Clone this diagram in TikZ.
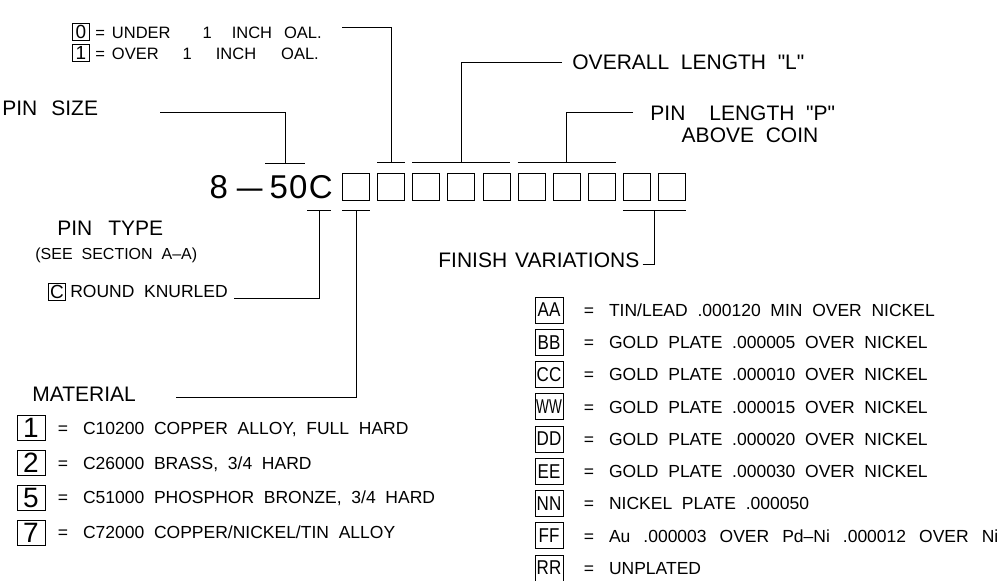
\documentclass[tikz,border=0pt]{standalone}
\usepackage{fontspec}
\newfontfamily\cadfont{Liberation Sans}[WordSpace=2]
\usepackage{tikz}
\usetikzlibrary{calc,positioning}

\newcommand{\fs}[1]{\cadfont\fontsize{#1}{#1}\selectfont}
\newcommand{\kl}[2][0.85]{\scalebox{#1}[1]{#2}}

\begin{document}
\begin{tikzpicture}[x=1pt,y=-1pt,line width=0.8pt]
    \tikzstyle{cbox}=[draw,minimum width=27pt,minimum height=27pt,inner sep=0pt]
    \tikzstyle{sbox}=[draw,minimum width=17pt,minimum height=17pt,inner sep=0pt,font=\fs{19}]
    \tikzstyle{nbox}=[draw,minimum width=28pt,minimum height=25pt,inner sep=0pt,font=\fs{28}]
    \tikzstyle{kbox}=[draw,minimum width=28pt,minimum height=26pt,inner sep=0pt,font=\fs{20}]
    \tikzstyle{head}=[anchor=west,inner sep=0pt,text height=15pt,text depth=0pt,font=\fs{21}]
    \tikzstyle{small}=[anchor=west,inner sep=0pt,text height=12pt,text depth=0pt,font=\fs{16.5}]
    \tikzstyle{ltext}=[anchor=west,inner sep=0pt,text height=12.5pt,text depth=0pt,font=\fs{17.5}]
    \useasboundingbox (0,0) rectangle (1002,581);

    % part number boxes
    \node[cbox] (c1) at (356,186.5) {};
    \node[cbox,right=7.3pt of c1] (c2) {};
    \node[cbox,right=7.3pt of c2] (c3) {};
    \node[cbox,right=7.3pt of c3] (c4) {};
    \node[cbox,right=7.3pt of c4] (c5) {};
    \node[cbox,right=7.3pt of c5] (c6) {};
    \node[cbox,right=7.3pt of c6] (c7) {};
    \node[cbox,right=7.3pt of c7] (c8) {};
    \node[cbox,right=7.3pt of c8] (c9) {};
    \node[cbox,right=7.3pt of c9] (c10) {};
    \node[inner sep=0pt,text height=23.6pt,text depth=0pt,font=\fs{33},left=9pt of c1] (code) {8\kern9pt\scalebox{1.4}[1]{–}\kern7pt 5\kern1pt0\kern1.5pt C};

    % tees
    \coordinate (t1) at (285,163);
    \coordinate (t2) at ([yshift=10pt]c2.north);
    \coordinate (t3) at ([yshift=10pt]c4.north);
    \coordinate (t4) at ([yshift=10pt]c7.north);
    \coordinate (t5) at ($([yshift=-10pt]c9.south)!0.5!([yshift=-10pt]c10.south)$);
    \coordinate (t6) at (319,210);
    \coordinate (t7) at ([yshift=-10pt]c1.south);
    \draw ([xshift=-20pt]t1) -- ([xshift=20pt]t1);
    \draw ([yshift=10pt]c2.north west) -- ([yshift=10pt]c2.north east);
    \draw ([yshift=10pt]c3.north west) -- ([yshift=10pt]c5.north east);
    \draw ([yshift=10pt]c6.north west) -- ([yshift=10pt]c8.north east);
    \draw ([xshift=-12pt]t6) -- ([xshift=12pt]t6);
    \draw ([yshift=-10pt]c1.south west) -- ([yshift=-10pt]c1.south east);
    \draw ([yshift=-10pt]c9.south west) -- ([yshift=-10pt]c10.south east);

    % top labels
    \node[sbox] (z0) at (81,32) {0};
    \node[small,right=5pt of z0] (under) {=\hspace{7pt}UNDER\hspace{32pt}1\hspace{20pt}INCH\hspace{12pt}OAL.};
    \node[sbox] (z1) at (81,53) {1};
    \node[small,right=5pt of z1] (over) {=\hspace{7pt}OVER\hspace{24pt}1\hspace{24pt}INCH\hspace{25pt}OAL.};
    \node[head] (pinsize) at (2,108) {PIN\hspace{14pt}SIZE};
    \node[head] (overall) at (572,62) {OVERALL LENGTH "L"};
    \node[head] (pinlen) at (650,112.5) {PIN\hspace{24pt}LENGTH "P"};
    \node[head,anchor=center] (above) at (750,135) {ABOVE COIN};

    % left labels
    \node[head] (pintype) at (57,228) {PIN\hspace{16pt}TYPE};
    \node[small,font=\fs{16}] (section) at (35,253) {(SEE SECTION A–A)};
    \node[sbox] (kc) at (57,291.5) {C};
    \node[ltext,right=4pt of kc] (knurl) {ROUND KNURLED};
    \node[head] (material) at (32,394) {MATERIAL};
    \node[head] (finish) at (438,260) {FINISH\hspace{8pt}VARIATIONS};

    % material list
    \node[nbox] (m1) at (31,428) {1};
    \node[ltext,right=12pt of m1] (m1t) {=\hspace{15pt}C10200 COPPER ALLOY, FULL HARD};
    \node[nbox,below=9pt of m1] (m2) {2};
    \node[ltext,right=12pt of m2] (m2t) {=\hspace{15pt}C26000 BRASS, 3/4 HARD};
    \node[nbox,below=9pt of m2] (m5) {5};
    \node[ltext,right=12pt of m5] (m5t) {=\hspace{15pt}C51000 PHOSPHOR BRONZE, 3/4 HARD};
    \node[nbox,below=9pt of m5] (m7) {7};
    \node[ltext,right=12pt of m7] (m7t) {=\hspace{15pt}C72000 COPPER/NICKEL/TIN ALLOY};

    % finish list
    \node[kbox] (aa) at (549,310) {\kl{AA}};
    \node[ltext,right=20pt of aa] (aat) {=\hspace{15pt}TIN/LEAD .000120 MIN OVER NICKEL};
    \node[kbox,below=5.45pt of aa] (bb) {\kl{BB}};
    \node[ltext,right=20pt of bb] (bbt) {=\hspace{15pt}GOLD PLATE .000005 OVER NICKEL};
    \node[kbox,below=5.45pt of bb] (cc) {\kl{CC}};
    \node[ltext,right=20pt of cc] (cct) {=\hspace{15pt}GOLD PLATE .000010 OVER NICKEL};
    \node[kbox,below=5.45pt of cc] (ww) {\kl[0.68]{WW}};
    \node[ltext,right=20pt of ww] (wwt) {=\hspace{15pt}GOLD PLATE .000015 OVER NICKEL};
    \node[kbox,below=5.45pt of ww] (dd) {\kl{DD}};
    \node[ltext,right=20pt of dd] (ddt) {=\hspace{15pt}GOLD PLATE .000020 OVER NICKEL};
    \node[kbox,below=5.45pt of dd] (ee) {\kl{EE}};
    \node[ltext,right=20pt of ee] (eet) {=\hspace{15pt}GOLD PLATE .000030 OVER NICKEL};
    \node[kbox,below=5.45pt of ee] (nn) {\kl{NN}};
    \node[ltext,right=20pt of nn] (nnt) {=\hspace{15pt}NICKEL PLATE .000050};
    \node[kbox,below=5.45pt of nn] (ff) {\kl{FF}};
    \node[ltext,right=20pt of ff] (fft) {\spaceskip=13pt =\hspace{15pt}Au .000003 OVER Pd–Ni .000012 OVER Ni};
    \node[kbox,below=5.45pt of ff] (rr) {\kl{RR}};
    \node[ltext,right=20pt of rr] (rrt) {=\hspace{15pt}UNPLATED};

    % leaders
    \draw ([xshift=62pt,yshift=-4pt]pinsize.east) -| (t1);
    \draw ([xshift=20pt,yshift=5pt]under.east) -| (t2);
    \draw ([xshift=-10pt]overall.west) -| (t3);
    \draw ([xshift=-17pt]pinlen.west) -| (t4);
    \draw ([xshift=3pt,yshift=-4pt]finish.east) -| (t5);
    \draw ([xshift=6pt,yshift=-7pt]knurl.east) -| (t6);
    \draw ([xshift=40pt,yshift=-3pt]material.east) -| (t7);
\end{tikzpicture}
\end{document}
